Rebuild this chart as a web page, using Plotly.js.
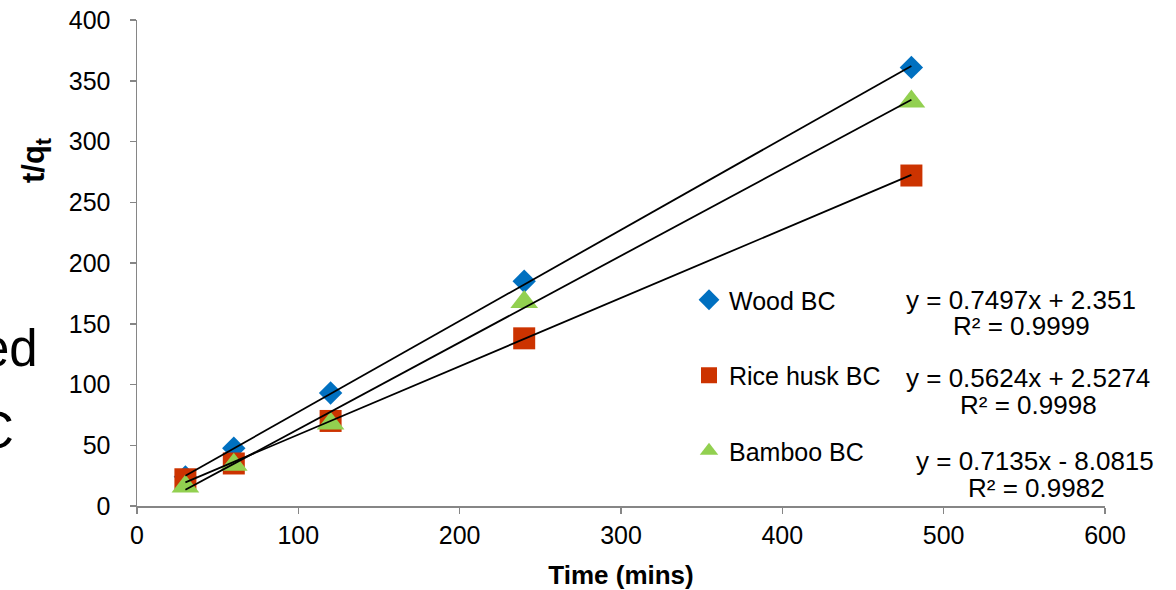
<!DOCTYPE html>
<html>
<head>
<meta charset="utf-8">
<script src="https://cdn.plot.ly/plotly-3.0.1.min.js"></script>
<style>html,body{margin:0;padding:0;background:#fff;}#chart{width:1176px;height:590px;}</style>
</head>
<body>
<div id="chart"></div>
<script>
var timeMins = [30, 60, 120, 240, 480];
var seriesNames = ["Wood BC", "Rice husk BC", "Bamboo BC"];
var woodBC = [24, 47.5, 93, 185, 361];
var riceHuskBC = [22, 35, 70, 138, 272];
var bambooBC = [16, 34, 68, 168, 333];
var slopes = [0.7497, 0.5624, 0.7135];
var intercepts = [2.351, 2.5274, -8.0815];
var r2 = ["0.9999", "0.9998", "0.9982"];
var eqLabels = ["y = 0.7497x + 2.351", "y = 0.5624x + 2.5274", "y = 0.7135x - 8.0815"];
var trendRange = [30, 480];

var FONT = "Arial, 'Liberation Sans', sans-serif";
var colors = ["#0070C0", "#CC3300", "#92D050"];
var symbols = ["diamond", "square", "triangle-up"];
var sizes = [18, 22, 24];
var values = [woodBC, riceHuskBC, bambooBC];

var traces = [];
for (var i = 0; i < 3; i++) {
  traces.push({
    x: timeMins, y: values[i], type: "scatter", mode: "markers", name: seriesNames[i],
    legendgroup: "g" + i,
    marker: {symbol: symbols[i], size: sizes[i], color: colors[i], line: {width: 0}}
  });
}
for (var i = 0; i < 3; i++) {
  traces.push({
    x: trendRange,
    y: trendRange.map(function (t) { return slopes[i] * t + intercepts[i]; }),
    type: "scatter", mode: "lines", showlegend: false, hoverinfo: "skip",
    line: {color: "#000000", width: 1.8}
  });
}

// pixel helpers for placing text (plot area: x 137..1105, y 20..506)
function px(p) { return (p - 137) / 968; }
function py(p) { return 1 - (p - 20) / 486; }

var eqX = [[1021, 1021], [1028, 1028], [1035, 1036]];
var eqY = [[300, 326], [378, 405], [461, 488]];
var annotations = [];
for (var i = 0; i < 3; i++) {
  annotations.push({
    xref: "paper", yref: "paper", x: px(eqX[i][0]), y: py(eqY[i][0]),
    text: eqLabels[i], showarrow: false, xanchor: "center", yanchor: "middle",
    font: {family: FONT, size: 26, color: "#000"}
  });
  annotations.push({
    xref: "paper", yref: "paper", x: px(eqX[i][1]), y: py(eqY[i][1]),
    text: "R\u00b2 = " + r2[i], showarrow: false, xanchor: "center", yanchor: "middle",
    font: {family: FONT, size: 26, color: "#000"}
  });
}
annotations.push({
  xref: "paper", yref: "paper", x: px(36), y: py(161),
  text: "<b>t/q<sub>t</sub></b>", textangle: -90, showarrow: false,
  xanchor: "center", yanchor: "middle",
  font: {family: FONT, size: 31, color: "#000"}
});
annotations.push({
  xref: "paper", yref: "paper", x: px(40), y: py(348),
  text: "ed", showarrow: false, xanchor: "right", yanchor: "middle",
  font: {family: FONT, size: 51, color: "#000"}
});
annotations.push({
  xref: "paper", yref: "paper", x: px(16), y: py(430),
  text: "C", showarrow: false, xanchor: "right", yanchor: "middle",
  font: {family: FONT, size: 51, color: "#000"}
});

var layout = {
  width: 1176, height: 590,
  margin: {l: 137, r: 71, t: 20, b: 84},
  paper_bgcolor: "#fff", plot_bgcolor: "#fff",
  font: {family: FONT, size: 25, color: "#000"},
  showlegend: true,
  legend: {
    x: px(689), y: py(277), xanchor: "left", yanchor: "top",
    font: {family: FONT, size: 25, color: "#000"},
    tracegroupgap: 40, itemwidth: 30, bgcolor: "rgba(0,0,0,0)"
  },
  xaxis: {
    range: [0, 600], dtick: 100, showgrid: false, zeroline: false,
    showline: true, linecolor: "#868686", linewidth: 1.5,
    ticks: "outside", ticklen: 6, tickcolor: "#868686", tickwidth: 1.5,
    tickfont: {family: FONT, size: 25, color: "#000"},
    title: {text: "<b>Time (mins)</b>", font: {family: FONT, size: 26, color: "#000"}, standoff: 20}
  },
  yaxis: {
    range: [0, 400], dtick: 50, showgrid: false, zeroline: false,
    showline: true, linecolor: "#868686", linewidth: 1.5,
    ticks: "outside", ticklen: 6, tickcolor: "#868686", tickwidth: 1.5,
    ticklabelstandoff: 14,
    tickfont: {family: FONT, size: 25, color: "#000"}
  },
  annotations: annotations
};

Plotly.newPlot("chart", traces, layout, {displayModeBar: false, staticPlot: true});
</script>
</body>
</html>
